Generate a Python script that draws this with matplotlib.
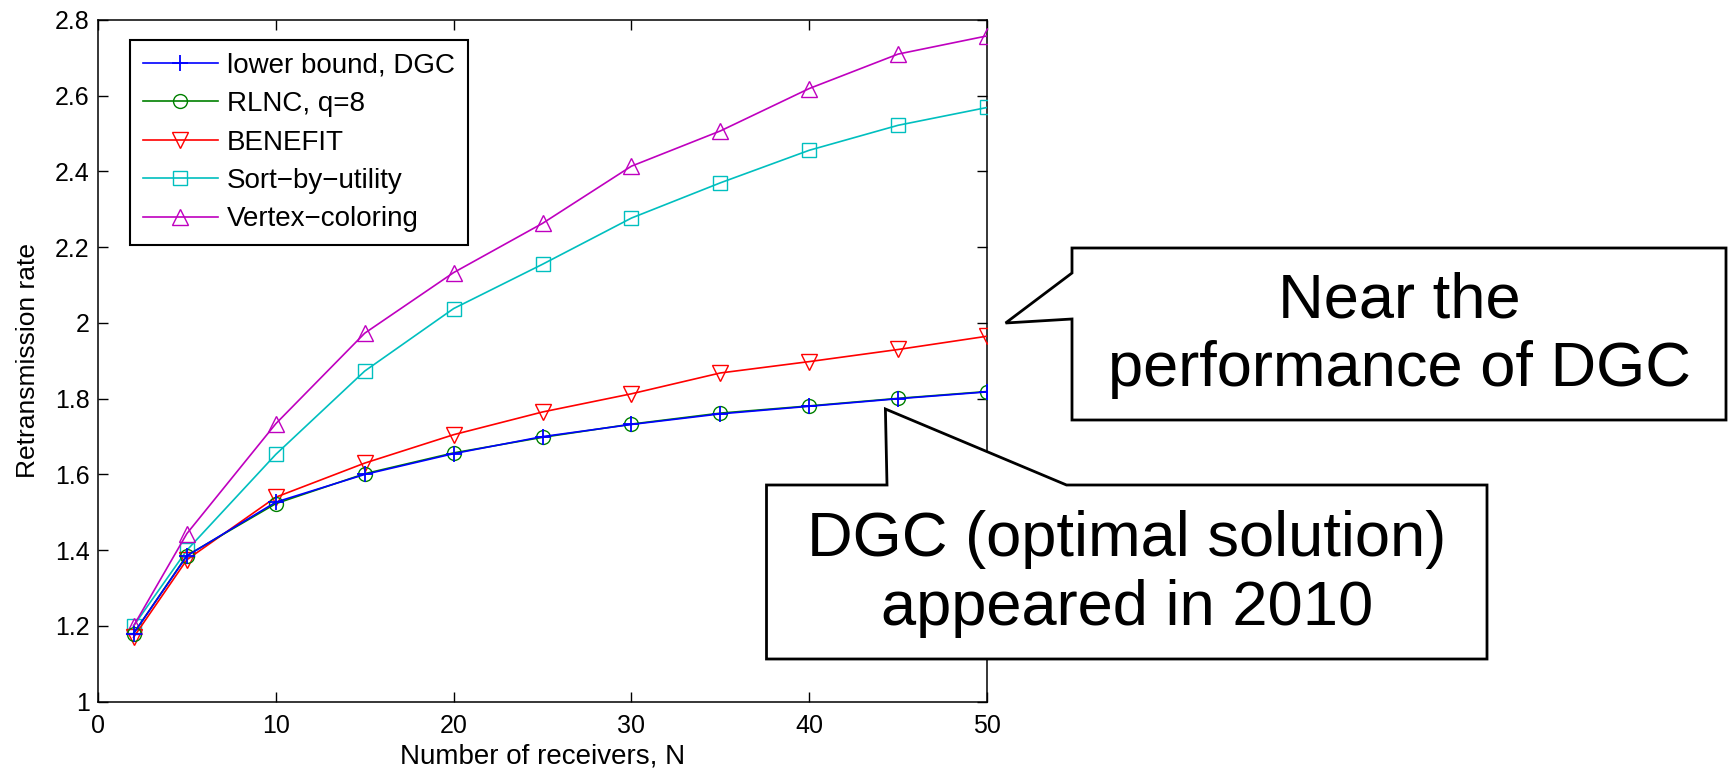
import matplotlib
matplotlib.use("Agg")
import matplotlib.pyplot as plt
from matplotlib.patches import Polygon
from matplotlib.transforms import Affine2D
from matplotlib.ticker import FuncFormatter

plt.rcParams['font.family'] = ['Liberation Sans', 'DejaVu Sans']

# ---- data ----
receivers = [2, 5, 10, 15, 20, 25, 30, 35, 40, 45, 50]
lower_bound_dgc = [1.18, 1.385, 1.527, 1.600, 1.655, 1.700, 1.732, 1.760, 1.780, 1.800, 1.818]
rlnc_q8 = [1.18, 1.386, 1.523, 1.602, 1.657, 1.698, 1.733, 1.762, 1.781, 1.801, 1.819]
benefit = [1.17, 1.375, 1.540, 1.630, 1.705, 1.765, 1.813, 1.868, 1.898, 1.930, 1.965]
sort_by_utility = [1.20, 1.400, 1.653, 1.873, 2.038, 2.155, 2.277, 2.370, 2.456, 2.522, 2.569]
vertex_coloring = [1.20, 1.444, 1.734, 1.973, 2.133, 2.263, 2.414, 2.507, 2.619, 2.710, 2.758]

series_labels = ["lower bound, DGC", "RLNC, q=8", "BENEFIT",
                 "Sort\u2212by\u2212utility", "Vertex\u2212coloring"]
x_ticks = [0, 10, 20, 30, 40, 50]
y_ticks = [1.0, 1.2, 1.4, 1.6, 1.8, 2.0, 2.2, 2.4, 2.6, 2.8]

W, H = 1729, 772
fig = plt.figure(figsize=(W / 100, H / 100), dpi=100)
ax = fig.add_axes([98 / W, 1 - 701.7 / H, (987 - 98) / W, (701.7 - 20) / H])

ax.plot(receivers, lower_bound_dgc, color='#0000FF', marker='+', markersize=11,
        markeredgewidth=1.3, lw=1.2, label=series_labels[0], zorder=6)
ax.plot(receivers, rlnc_q8, color='#008000', marker='o', markersize=10, mfc='none',
        markeredgewidth=1.0, lw=1.2, label=series_labels[1], zorder=5)
ax.plot(receivers, benefit, color='#FF0000', marker='v', markersize=12, mfc='none',
        markeredgewidth=1.0, lw=1.2, label=series_labels[2], zorder=4)
ax.plot(receivers, sort_by_utility, color='#00BFBF', marker='s', markersize=10, mfc='none',
        markeredgewidth=1.0, lw=1.2, label=series_labels[3], zorder=3)
ax.plot(receivers, vertex_coloring, color='#BF00BF', marker='^', markersize=12, mfc='none',
        markeredgewidth=1.0, lw=1.2, label=series_labels[4], zorder=3)

ax.set_xlim(0, 50)
ax.set_ylim(1, 2.8)
ax.set_xticks(x_ticks)
ax.set_yticks(y_ticks)
ax.yaxis.set_major_formatter(FuncFormatter(lambda v, p: f"{v:g}"))
ax.tick_params(direction='in', length=7, width=1, top=True, right=True,
               labelsize=18, colors='black')
ax.tick_params(axis='x', pad=9)
ax.tick_params(axis='y', pad=6)
for s in ax.spines.values():
    s.set_linewidth(1.1)

ax.set_xlabel("Number of receivers, N", fontsize=20, labelpad=4)
ax.set_ylabel("Retransmission rate", fontsize=19, labelpad=11)

leg = ax.legend(loc='upper left', bbox_to_anchor=((130 - 98) / 889, (701.7 - 40) / 681.7),
                borderaxespad=0, fontsize=20, handlelength=2.7, handletextpad=0.35,
                labelspacing=0.45, borderpad=0.45, fancybox=False, framealpha=1,
                edgecolor='black')
leg.get_frame().set_linewidth(1.5)

# ---- callouts (figure pixel coordinates, origin top-left) ----
px = Affine2D().scale(1 / W, -1 / H).translate(0, 1) + fig.transFigure

callout1 = [(1072, 248), (1726, 248), (1726, 420), (1072, 420),
            (1072, 319), (1005.6, 323), (1072, 273)]
callout2 = [(766.5, 485), (887, 485), (885.4, 409), (1066.5, 485),
            (1487, 485), (1487, 659), (766.5, 659)]
for verts in (callout1, callout2):
    poly = Polygon(verts, closed=True, facecolor='white', edgecolor='black',
                   linewidth=2, transform=px, zorder=10, joinstyle='miter')
    fig.add_artist(poly)

fig.text(1399 / W, 1 - 335 / H, "Near the\nperformance of DGC", ha='center',
         va='center', fontsize=45.5, linespacing=1.2, multialignment='center',
         zorder=11)
fig.text(1126.7 / W, 1 - 574 / H, "DGC (optimal solution)\nappeared in 2010",
         ha='center', va='center', fontsize=45.5, linespacing=1.2,
         multialignment='center', zorder=11)

fig.savefig("out.png", dpi=100)
